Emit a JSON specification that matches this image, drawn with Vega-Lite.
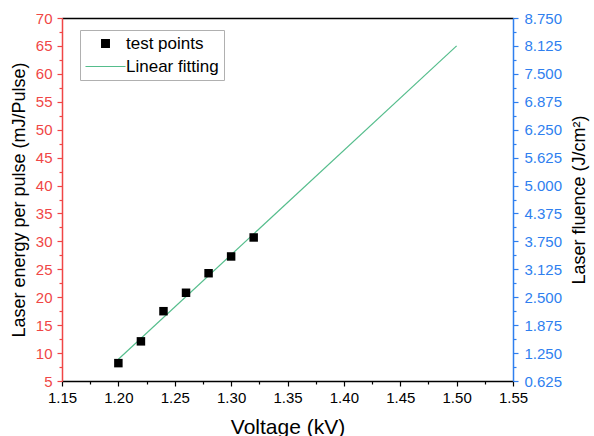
{
  "$schema": "https://vega.github.io/schema/vega-lite/v6.json",
  "width": 451,
  "height": 363,
  "autosize": {"type": "none"},
  "padding": {"left": 62, "top": 18, "right": 81, "bottom": 55},
  "background": "white",
  "config": {
    "view": {"stroke": null},
    "font": "Liberation Sans",
    "axis": {"grid": false, "labelFont": "Liberation Sans", "titleFont": "Liberation Sans", "labelFontSize": 15, "titleFontSize": 18, "titleFontWeight": "normal", "tickSize": 5, "domainWidth": 1.5, "tickWidth": 1.2, "labelFlush": false},
    "legend": {"labelFont": "Liberation Sans", "labelFontSize": 17}
  },
  "datasets": {
    "points": [
      {"voltage": 1.20, "energy": 8.2, "series": "test points"},
      {"voltage": 1.22, "energy": 12.1, "series": "test points"},
      {"voltage": 1.24, "energy": 17.5, "series": "test points"},
      {"voltage": 1.26, "energy": 20.8, "series": "test points"},
      {"voltage": 1.28, "energy": 24.3, "series": "test points"},
      {"voltage": 1.30, "energy": 27.3, "series": "test points"},
      {"voltage": 1.32, "energy": 30.7, "series": "test points"}
    ],
    "fit": [
      {"voltage": 1.20, "energy": 8.9},
      {"voltage": 1.50, "energy": 65.0}
    ],
    "fluence": [
      {"voltage": 1.15, "fluence": 0.625},
      {"voltage": 1.55, "fluence": 8.75}
    ]
  },
  "layer": [
    {
      "data": {"name": "fit"},
      "mark": {"type": "line", "color": "#55bd8c", "strokeWidth": 1.2},
      "encoding": {
        "x": {"field": "voltage", "type": "quantitative", "scale": {"domain": [1.15, 1.55], "nice": false, "zero": false},
              "axis": {"orient": "bottom", "values": [1.175, 1.225, 1.275, 1.325, 1.375, 1.425, 1.475, 1.525], "labels": false, "domain": false, "tickSize": 3, "tickColor": "#000", "title": null}},
        "y": {"field": "energy", "type": "quantitative", "scale": {"domain": [5, 70], "nice": false, "zero": false},
              "axis": {"orient": "left", "values": [7.5, 12.5, 17.5, 22.5, 27.5, 32.5, 37.5, 42.5, 47.5, 52.5, 57.5, 62.5, 67.5], "labels": false, "domain": false, "tickSize": 3, "tickColor": "#f04646", "title": null}}
      }
    },
    {
      "data": {"name": "points"},
      "mark": {"type": "point", "shape": "square", "filled": true, "size": 72, "opacity": 1},
      "encoding": {
        "x": {"field": "voltage", "type": "quantitative", "scale": {"domain": [1.15, 1.55], "nice": false, "zero": false},
              "axis": {"orient": "bottom", "values": [1.15, 1.2, 1.25, 1.3, 1.35, 1.4, 1.45, 1.5, 1.55], "format": ".2f", "domainColor": "#000", "tickColor": "#000", "labelColor": "#000", "labelPadding": 4, "title": "Voltage (kV)", "titleFontSize": 21, "titlePadding": 11, "titleColor": "#000"}},
        "y": {"field": "energy", "type": "quantitative", "scale": {"domain": [5, 70], "nice": false, "zero": false},
              "axis": {"orient": "left", "values": [5, 10, 15, 20, 25, 30, 35, 40, 45, 50, 55, 60, 65, 70], "domainColor": "#f04646", "tickColor": "#f04646", "labelColor": "#f04646", "labelPadding": 5, "title": "Laser energy per pulse (mJ/Pulse)", "titleColor": "#000", "titlePadding": 7}},
        "color": {"field": "series", "type": "nominal", "scale": {"domain": ["test points", "Linear fitting"], "range": ["#000000", "#55bd8c"]},
                  "legend": {"title": null, "orient": "none", "legendX": 18, "legendY": 12, "strokeColor": "#b0b0b0", "fillColor": "white", "padding": 5, "symbolSize": 1600, "symbolOffset": 12, "labelOffset": 12, "rowPadding": 5, "labelColor": "#000",
                    "encoding": {"symbols": {
                      "shape": {"value": {"expr": "datum.value === 'Linear fitting' ? 'stroke' : 'square'"}},
                      "size": {"value": {"expr": "datum.value === 'Linear fitting' ? 1600 : 60"}},
                      "fill": {"value": {"expr": "datum.value === 'Linear fitting' ? 'transparent' : '#000000'"}},
                      "stroke": {"value": {"expr": "datum.value === 'Linear fitting' ? '#55bd8c' : '#000000'"}},
                      "strokeWidth": {"value": 1.2},
                      "opacity": {"value": 1}
                    }}}}
      }
    },
    {
      "data": {"name": "fluence"},
      "mark": {"type": "point", "opacity": 0},
      "encoding": {
        "x": {"field": "voltage", "type": "quantitative", "scale": {"domain": [1.15, 1.55], "nice": false, "zero": false},
              "axis": {"orient": "top", "ticks": false, "labels": false, "domainColor": "#000", "title": null}},
        "y": {"field": "fluence", "type": "quantitative", "scale": {"domain": [0.625, 8.75], "nice": false, "zero": false},
              "axis": {"orient": "right", "values": [0.625, 1.25, 1.875, 2.5, 3.125, 3.75, 4.375, 5, 5.625, 6.25, 6.875, 7.5, 8.125, 8.75], "format": ".3f", "domainColor": "#2f7fef", "tickColor": "#2f7fef", "labelColor": "#2f7fef", "labelPadding": 6, "title": "Laser fluence (J/cm²)", "titleAngle": 270, "titleBaseline": "top", "titleColor": "#000", "titlePadding": 9}}
      }
    },
    {
      "data": {"name": "fluence"},
      "mark": {"type": "point", "opacity": 0},
      "encoding": {
        "x": {"field": "voltage", "type": "quantitative", "scale": {"domain": [1.15, 1.55], "nice": false, "zero": false}, "axis": null},
        "y": {"field": "fluence", "type": "quantitative", "scale": {"domain": [0.625, 8.75], "nice": false, "zero": false},
              "axis": {"orient": "right", "values": [0.9375, 1.5625, 2.1875, 2.8125, 3.4375, 4.0625, 4.6875, 5.3125, 5.9375, 6.5625, 7.1875, 7.8125, 8.4375], "labels": false, "domain": false, "tickSize": 3, "tickColor": "#2f7fef", "title": null}}
      }
    }
  ],
  "resolve": {"scale": {"x": "independent", "y": "independent"}}
}
